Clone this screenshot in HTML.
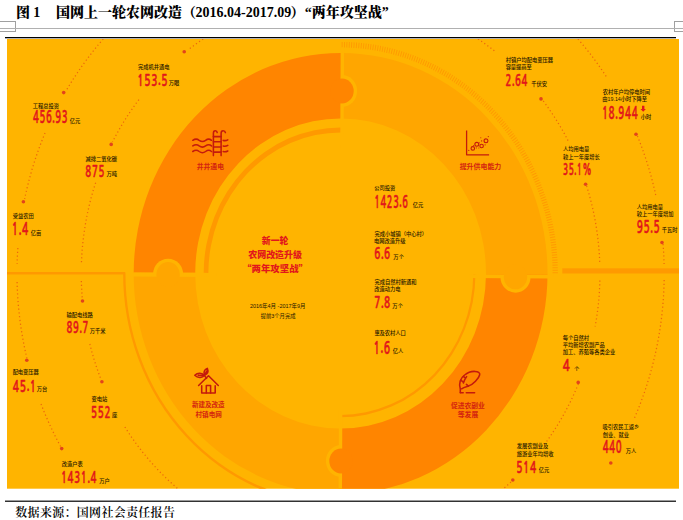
<!DOCTYPE html>
<html><head><meta charset="utf-8"><style>
html,body{margin:0;padding:0;background:#fff;}
body{width:683px;height:520px;position:relative;overflow:hidden;}
.title{position:absolute;left:0;top:0;white-space:nowrap;font-family:"Liberation Serif","Noto Serif CJK SC",serif;font-weight:bold;color:#000;}
.foot{position:absolute;white-space:nowrap;font-family:"Liberation Serif","Noto Serif CJK SC",serif;color:#000;}
</style></head><body>
<svg width="683" height="520" viewBox="0 0 683 520" style="position:absolute;left:0;top:0">
<rect x="-1.5" y="21.5" width="17" height="10" fill="none" stroke="#a0a0a0" stroke-width="1"/>
<rect x="674.5" y="21.5" width="10" height="10" fill="none" stroke="#a0a0a0" stroke-width="1"/>
<rect x="0" y="28" width="683" height="1" fill="#b0b0b0"/>
<rect x="5" y="37" width="671" height="1.3" fill="#000"/>
<rect x="5" y="500.6" width="671" height="1.2" fill="#000"/>
<rect x="7" y="39" width="672" height="449.7" fill="#ffb400"/>
<defs><clipPath id="cp"><rect x="7" y="39" width="672" height="449.7"/></clipPath></defs>
<g clip-path="url(#cp)">
<rect x="7" y="272.0" width="118" height="2.5" fill="#ff9900"/><rect x="562.3" y="268.3" width="117" height="5.2" fill="#ff9a00"/>
<g fill="none" stroke="#ec680c" stroke-width="1.25" stroke-dasharray="1.2 2.6"><path d="M103.24,39.00 L102.50,39.85 L101.77,40.70 L101.04,41.55 L100.32,42.40 L99.61,43.25 L98.89,44.10 L98.19,44.95 L97.48,45.80 L96.78,46.65 L96.09,47.50 L95.40,48.35 L94.72,49.20 L94.04,50.05 L93.36,50.90 L92.69,51.75 L92.02,52.60 L91.36,53.45 L90.70,54.30 L90.05,55.15 L89.40,56.00 L88.75,56.85 L88.11,57.70 L87.48,58.55 L86.84,59.40 L86.21,60.25 L85.59,61.10 L84.97,61.95 L84.35,62.80 L83.74,63.65 L83.13,64.50 L82.52,65.35 L81.92,66.20 L81.33,67.05 L80.73,67.90 L80.14,68.75 L79.56,69.60 L78.97,70.45 L78.40,71.30 L77.82,72.15 L77.25,73.00 L76.68,73.85 L76.12,74.70 L75.56,75.55 L75.00,76.40 L74.45,77.25 L73.90,78.10 L73.35,78.95 L72.81,79.80 L72.27,80.65 L71.73,81.50 L71.20,82.35 L70.67,83.20 L70.15,84.05 L69.63,84.90 L69.11,85.75 L68.59,86.60 L68.08,87.45 L67.57,88.30 L67.06,89.15 L66.56,90.00"/><path d="M45.04,133.00 L44.58,134.10 L44.13,135.20 L43.68,136.30 L43.24,137.40 L42.79,138.50 L42.36,139.60 L41.93,140.70 L41.50,141.80 L41.07,142.90 L40.65,144.00 L40.24,145.10 L39.83,146.20 L39.42,147.30 L39.01,148.40 L38.61,149.50 L38.22,150.60 L37.83,151.70 L37.44,152.80 L37.06,153.90 L36.68,155.00 L36.30,156.10 L35.93,157.20 L35.56,158.30 L35.20,159.40 L34.84,160.50 L34.49,161.60 L34.13,162.70 L33.79,163.80 L33.44,164.90 L33.10,166.00 L32.76,167.10 L32.43,168.20 L32.10,169.30 L31.78,170.40 L31.46,171.50 L31.14,172.60 L30.83,173.70 L30.52,174.80 L30.21,175.90 L29.91,177.00 L29.61,178.10 L29.31,179.20 L29.02,180.30 L28.73,181.40 L28.45,182.50 L28.17,183.60 L27.89,184.70 L27.62,185.80 L27.35,186.90 L27.09,188.00 L26.82,189.10 L26.56,190.20 L26.31,191.30 L26.06,192.40 L25.81,193.50 L25.57,194.60 L25.33,195.70 L25.09,196.80 L24.86,197.90 L24.63,199.00"/><path d="M17.88,248.00 L17.86,248.27 L17.84,248.53 L17.82,248.80 L17.80,249.07 L17.78,249.33 L17.77,249.60 L17.75,249.87 L17.73,250.13 L17.72,250.40 L17.70,250.67 L17.68,250.93 L17.67,251.20 L17.65,251.47 L17.63,251.73 L17.62,252.00 L17.60,252.27 L17.59,252.53 L17.57,252.80 L17.56,253.07 L17.54,253.33 L17.53,253.60 L17.51,253.87 L17.50,254.13 L17.49,254.40 L17.47,254.67 L17.46,254.93 L17.45,255.20 L17.43,255.47 L17.42,255.73 L17.41,256.00 L17.39,256.27 L17.38,256.53 L17.37,256.80 L17.36,257.07 L17.35,257.33 L17.33,257.60 L17.32,257.87 L17.31,258.13 L17.30,258.40 L17.29,258.67 L17.28,258.93 L17.27,259.20 L17.26,259.47 L17.25,259.73 L17.24,260.00 L17.23,260.27 L17.22,260.53 L17.21,260.80 L17.20,261.07 L17.19,261.33 L17.18,261.60 L17.17,261.87 L17.17,262.13 L17.16,262.40 L17.15,262.67 L17.14,262.93 L17.13,263.20 L17.13,263.47 L17.12,263.73 L17.11,264.00"/><path d="M203.18,39.00 L202.91,39.18 L202.63,39.37 L202.36,39.55 L202.09,39.73 L201.82,39.92 L201.55,40.10 L201.28,40.28 L201.01,40.47 L200.74,40.65 L200.47,40.83 L200.20,41.02 L199.93,41.20 L199.67,41.38 L199.40,41.57 L199.14,41.75 L198.87,41.93 L198.61,42.12 L198.35,42.30 L198.09,42.48 L197.83,42.67 L197.57,42.85 L197.31,43.03 L197.05,43.22 L196.79,43.40 L196.53,43.58 L196.27,43.77 L196.02,43.95 L195.76,44.13 L195.51,44.32 L195.25,44.50 L195.00,44.68 L194.74,44.87 L194.49,45.05 L194.24,45.23 L193.99,45.42 L193.74,45.60 L193.49,45.78 L193.24,45.97 L192.99,46.15 L192.74,46.33 L192.49,46.52 L192.25,46.70 L192.00,46.88 L191.76,47.07 L191.51,47.25 L191.27,47.43 L191.02,47.62 L190.78,47.80 L190.54,47.98 L190.29,48.17 L190.05,48.35 L189.81,48.53 L189.57,48.72 L189.33,48.90 L189.09,49.08 L188.85,49.27 L188.62,49.45 L188.38,49.63 L188.14,49.82 L187.90,50.00"/><path d="M138.88,99.70 L138.35,100.41 L137.82,101.11 L137.30,101.81 L136.78,102.52 L136.26,103.23 L135.74,103.93 L135.23,104.64 L134.72,105.34 L134.22,106.05 L133.71,106.75 L133.22,107.45 L132.72,108.16 L132.23,108.87 L131.74,109.57 L131.26,110.28 L130.77,110.98 L130.30,111.69 L129.82,112.39 L129.35,113.09 L128.88,113.80 L128.41,114.50 L127.95,115.21 L127.49,115.92 L127.03,116.62 L126.58,117.33 L126.13,118.03 L125.68,118.73 L125.23,119.44 L124.79,120.14 L124.35,120.85 L123.91,121.56 L123.48,122.26 L123.05,122.97 L122.62,123.67 L122.20,124.38 L121.77,125.08 L121.36,125.78 L120.94,126.49 L120.53,127.19 L120.11,127.90 L119.71,128.60 L119.30,129.31 L118.90,130.01 L118.50,130.72 L118.10,131.43 L117.71,132.13 L117.31,132.84 L116.92,133.54 L116.54,134.25 L116.15,134.95 L115.77,135.66 L115.39,136.36 L115.02,137.06 L114.64,137.77 L114.27,138.47 L113.90,139.18 L113.54,139.88 L113.17,140.59 L112.81,141.30 L112.45,142.00"/><path d="M95.63,182.70 L95.19,184.06 L94.75,185.42 L94.33,186.78 L93.91,188.15 L93.50,189.51 L93.09,190.87 L92.70,192.23 L92.31,193.59 L91.93,194.95 L91.55,196.32 L91.18,197.68 L90.82,199.04 L90.47,200.40 L90.12,201.76 L89.78,203.12 L89.45,204.49 L89.13,205.85 L88.81,207.21 L88.50,208.57 L88.19,209.93 L87.89,211.29 L87.60,212.66 L87.32,214.02 L87.04,215.38 L86.77,216.74 L86.50,218.10 L86.24,219.46 L85.99,220.83 L85.75,222.19 L85.51,223.55 L85.28,224.91 L85.05,226.27 L84.84,227.63 L84.62,229.00 L84.42,230.36 L84.22,231.72 L84.03,233.08 L83.84,234.44 L83.66,235.80 L83.49,237.17 L83.33,238.53 L83.17,239.89 L83.01,241.25 L82.87,242.61 L82.73,243.97 L82.59,245.34 L82.46,246.70 L82.34,248.06 L82.23,249.42 L82.12,250.78 L82.02,252.14 L81.92,253.51 L81.83,254.87 L81.75,256.23 L81.67,257.59 L81.60,258.95 L81.54,260.31 L81.48,261.68 L81.43,263.04 L81.38,264.40"/><path d="M81.34,281.00 L81.35,281.30 L81.35,281.60 L81.36,281.90 L81.37,282.20 L81.38,282.50 L81.39,282.80 L81.40,283.10 L81.41,283.40 L81.42,283.70 L81.43,284.00 L81.44,284.30 L81.45,284.60 L81.46,284.90 L81.48,285.20 L81.49,285.50 L81.50,285.80 L81.51,286.10 L81.53,286.40 L81.54,286.70 L81.55,287.00 L81.57,287.30 L81.58,287.60 L81.59,287.90 L81.61,288.20 L81.62,288.50 L81.64,288.80 L81.66,289.10 L81.67,289.40 L81.69,289.70 L81.71,290.00 L81.72,290.30 L81.74,290.60 L81.76,290.90 L81.77,291.20 L81.79,291.50 L81.81,291.80 L81.83,292.10 L81.85,292.40 L81.87,292.70 L81.89,293.00 L81.91,293.30 L81.93,293.60 L81.95,293.90 L81.97,294.20 L81.99,294.50 L82.01,294.80 L82.04,295.10 L82.06,295.40 L82.08,295.70 L82.10,296.00 L82.13,296.30 L82.15,296.60 L82.17,296.90 L82.20,297.20 L82.22,297.50 L82.25,297.80 L82.27,298.10 L82.30,298.40 L82.32,298.70 L82.35,299.00"/><path d="M89.82,344.00 L89.96,344.60 L90.11,345.20 L90.27,345.80 L90.42,346.40 L90.57,347.00 L90.73,347.60 L90.89,348.20 L91.05,348.80 L91.21,349.40 L91.37,350.00 L91.53,350.60 L91.69,351.20 L91.86,351.80 L92.03,352.40 L92.19,353.00 L92.36,353.60 L92.54,354.20 L92.71,354.80 L92.88,355.40 L93.06,356.00 L93.23,356.60 L93.41,357.20 L93.59,357.80 L93.77,358.40 L93.95,359.00 L94.14,359.60 L94.32,360.20 L94.51,360.80 L94.70,361.40 L94.89,362.00 L95.08,362.60 L95.27,363.20 L95.46,363.80 L95.66,364.40 L95.86,365.00 L96.05,365.60 L96.25,366.20 L96.45,366.80 L96.66,367.40 L96.86,368.00 L97.07,368.60 L97.27,369.20 L97.48,369.80 L97.69,370.40 L97.90,371.00 L98.12,371.60 L98.33,372.20 L98.55,372.80 L98.76,373.40 L98.98,374.00 L99.20,374.60 L99.42,375.20 L99.65,375.80 L99.87,376.40 L100.10,377.00 L100.33,377.60 L100.56,378.20 L100.79,378.80 L101.02,379.40 L101.25,380.00"/><path d="M124.88,427.00 L125.53,428.03 L126.19,429.07 L126.85,430.10 L127.52,431.13 L128.20,432.17 L128.88,433.20 L129.57,434.23 L130.26,435.27 L130.97,436.30 L131.67,437.33 L132.39,438.37 L133.11,439.40 L133.84,440.43 L134.58,441.47 L135.33,442.50 L136.08,443.53 L136.84,444.57 L137.61,445.60 L138.38,446.63 L139.16,447.67 L139.95,448.70 L140.75,449.73 L141.56,450.77 L142.37,451.80 L143.19,452.83 L144.02,453.87 L144.86,454.90 L145.71,455.93 L146.56,456.97 L147.43,458.00 L148.30,459.03 L149.18,460.07 L150.07,461.10 L150.97,462.13 L151.88,463.17 L152.80,464.20 L153.73,465.23 L154.66,466.27 L155.61,467.30 L156.57,468.33 L157.54,469.37 L158.52,470.40 L159.50,471.43 L160.50,472.47 L161.51,473.50 L162.53,474.53 L163.57,475.57 L164.61,476.60 L165.66,477.63 L166.73,478.67 L167.81,479.70 L168.90,480.73 L170.00,481.77 L171.12,482.80 L172.25,483.83 L173.39,484.87 L174.55,485.90 L175.72,486.93 L176.90,487.97 L178.10,489.00"/><path d="M17.09,282.00 L17.12,283.27 L17.16,284.53 L17.20,285.80 L17.24,287.07 L17.29,288.33 L17.34,289.60 L17.40,290.87 L17.46,292.13 L17.53,293.40 L17.60,294.67 L17.67,295.93 L17.75,297.20 L17.84,298.47 L17.93,299.73 L18.02,301.00 L18.12,302.27 L18.22,303.53 L18.32,304.80 L18.44,306.07 L18.55,307.33 L18.67,308.60 L18.79,309.87 L18.92,311.13 L19.05,312.40 L19.19,313.67 L19.33,314.93 L19.48,316.20 L19.63,317.47 L19.78,318.73 L19.94,320.00 L20.11,321.27 L20.28,322.53 L20.45,323.80 L20.63,325.07 L20.81,326.33 L20.99,327.60 L21.18,328.87 L21.38,330.13 L21.58,331.40 L21.78,332.67 L21.99,333.93 L22.21,335.20 L22.43,336.47 L22.65,337.73 L22.88,339.00 L23.11,340.27 L23.34,341.53 L23.59,342.80 L23.83,344.07 L24.08,345.33 L24.34,346.60 L24.60,347.87 L24.86,349.13 L25.13,350.40 L25.41,351.67 L25.68,352.93 L25.97,354.20 L26.26,355.47 L26.55,356.73 L26.85,358.00"/><path d="M41.03,404.00 L41.31,404.72 L41.59,405.43 L41.87,406.15 L42.15,406.87 L42.43,407.58 L42.71,408.30 L43.00,409.02 L43.29,409.73 L43.58,410.45 L43.87,411.17 L44.16,411.88 L44.46,412.60 L44.76,413.32 L45.05,414.03 L45.36,414.75 L45.66,415.47 L45.96,416.18 L46.27,416.90 L46.58,417.62 L46.89,418.33 L47.20,419.05 L47.51,419.77 L47.83,420.48 L48.15,421.20 L48.47,421.92 L48.79,422.63 L49.11,423.35 L49.43,424.07 L49.76,424.78 L50.09,425.50 L50.42,426.22 L50.75,426.93 L51.09,427.65 L51.43,428.37 L51.76,429.08 L52.11,429.80 L52.45,430.52 L52.79,431.23 L53.14,431.95 L53.49,432.67 L53.84,433.38 L54.19,434.10 L54.55,434.82 L54.90,435.53 L55.26,436.25 L55.62,436.97 L55.98,437.68 L56.35,438.40 L56.72,439.12 L57.08,439.83 L57.46,440.55 L57.83,441.27 L58.20,441.98 L58.58,442.70 L58.96,443.42 L59.34,444.13 L59.73,444.85 L60.11,445.57 L60.50,446.28 L60.89,447.00"/><path d="M478.02,39.00 L478.31,39.20 L478.61,39.40 L478.91,39.59 L479.20,39.79 L479.49,39.99 L479.79,40.19 L480.08,40.39 L480.37,40.59 L480.66,40.78 L480.95,40.98 L481.24,41.18 L481.53,41.38 L481.81,41.58 L482.10,41.78 L482.39,41.98 L482.67,42.17 L482.95,42.37 L483.24,42.57 L483.52,42.77 L483.80,42.97 L484.08,43.16 L484.36,43.36 L484.64,43.56 L484.92,43.76 L485.19,43.96 L485.47,44.16 L485.75,44.35 L486.02,44.55 L486.30,44.75 L486.57,44.95 L486.84,45.15 L487.12,45.35 L487.39,45.55 L487.66,45.74 L487.93,45.94 L488.20,46.14 L488.46,46.34 L488.73,46.54 L489.00,46.73 L489.27,46.93 L489.53,47.13 L489.80,47.33 L490.06,47.53 L490.32,47.73 L490.59,47.92 L490.85,48.12 L491.11,48.32 L491.37,48.52 L491.63,48.72 L491.89,48.92 L492.15,49.12 L492.41,49.31 L492.66,49.51 L492.92,49.71 L493.18,49.91 L493.43,50.11 L493.69,50.30 L493.94,50.50 L494.19,50.70 L494.45,50.90"/><path d="M543.29,101.00 L543.80,101.68 L544.31,102.37 L544.82,103.05 L545.32,103.73 L545.81,104.42 L546.31,105.10 L546.80,105.78 L547.28,106.47 L547.77,107.15 L548.25,107.83 L548.73,108.52 L549.20,109.20 L549.67,109.88 L550.14,110.57 L550.61,111.25 L551.07,111.93 L551.53,112.62 L551.99,113.30 L552.44,113.98 L552.90,114.67 L553.34,115.35 L553.79,116.03 L554.23,116.72 L554.67,117.40 L555.11,118.08 L555.54,118.77 L555.97,119.45 L556.40,120.13 L556.83,120.82 L557.25,121.50 L557.67,122.18 L558.09,122.87 L558.51,123.55 L558.92,124.23 L559.33,124.92 L559.73,125.60 L560.14,126.28 L560.54,126.97 L560.94,127.65 L561.34,128.33 L561.73,129.02 L562.12,129.70 L562.51,130.38 L562.90,131.07 L563.28,131.75 L563.66,132.43 L564.04,133.12 L564.42,133.80 L564.79,134.48 L565.16,135.17 L565.53,135.85 L565.90,136.53 L566.26,137.22 L566.63,137.90 L566.99,138.58 L567.34,139.27 L567.70,139.95 L568.05,140.63 L568.40,141.32 L568.75,142.00"/><path d="M586.63,186.00 L587.02,187.27 L587.41,188.53 L587.79,189.80 L588.16,191.07 L588.53,192.33 L588.89,193.60 L589.25,194.87 L589.60,196.13 L589.94,197.40 L590.28,198.67 L590.61,199.93 L590.93,201.20 L591.25,202.47 L591.57,203.73 L591.87,205.00 L592.17,206.27 L592.47,207.53 L592.76,208.80 L593.04,210.07 L593.32,211.33 L593.59,212.60 L593.85,213.87 L594.11,215.13 L594.37,216.40 L594.61,217.67 L594.86,218.93 L595.09,220.20 L595.32,221.47 L595.55,222.73 L595.77,224.00 L595.98,225.27 L596.19,226.53 L596.39,227.80 L596.59,229.07 L596.78,230.33 L596.96,231.60 L597.14,232.87 L597.31,234.13 L597.48,235.40 L597.65,236.67 L597.80,237.93 L597.95,239.20 L598.10,240.47 L598.24,241.73 L598.37,243.00 L598.50,244.27 L598.63,245.53 L598.74,246.80 L598.86,248.07 L598.96,249.33 L599.07,250.60 L599.16,251.87 L599.25,253.13 L599.34,254.40 L599.42,255.67 L599.49,256.93 L599.56,258.20 L599.62,259.47 L599.68,260.73 L599.73,262.00"/><path d="M577.96,39.00 L578.53,39.65 L579.09,40.30 L579.64,40.95 L580.20,41.60 L580.75,42.25 L581.30,42.90 L581.85,43.55 L582.39,44.20 L582.93,44.85 L583.47,45.50 L584.01,46.15 L584.54,46.80 L585.07,47.45 L585.60,48.10 L586.12,48.75 L586.64,49.40 L587.16,50.05 L587.68,50.70 L588.19,51.35 L588.71,52.00 L589.21,52.65 L589.72,53.30 L590.23,53.95 L590.73,54.60 L591.23,55.25 L591.72,55.90 L592.22,56.55 L592.71,57.20 L593.20,57.85 L593.69,58.50 L594.17,59.15 L594.65,59.80 L595.13,60.45 L595.61,61.10 L596.09,61.75 L596.56,62.40 L597.03,63.05 L597.50,63.70 L597.96,64.35 L598.43,65.00 L598.89,65.65 L599.35,66.30 L599.80,66.95 L600.26,67.60 L600.71,68.25 L601.16,68.90 L601.61,69.55 L602.05,70.20 L602.50,70.85 L602.94,71.50 L603.38,72.15 L603.82,72.80 L604.25,73.45 L604.68,74.10 L605.12,74.75 L605.54,75.40 L605.97,76.05 L606.39,76.70 L606.82,77.35 L607.24,78.00"/><path d="M637.40,136.00 L637.80,136.98 L638.19,137.97 L638.58,138.95 L638.97,139.93 L639.36,140.92 L639.74,141.90 L640.12,142.88 L640.50,143.87 L640.87,144.85 L641.24,145.83 L641.60,146.82 L641.97,147.80 L642.33,148.78 L642.68,149.77 L643.03,150.75 L643.38,151.73 L643.73,152.72 L644.07,153.70 L644.41,154.68 L644.75,155.67 L645.08,156.65 L645.41,157.63 L645.74,158.62 L646.07,159.60 L646.39,160.58 L646.70,161.57 L647.02,162.55 L647.33,163.53 L647.64,164.52 L647.94,165.50 L648.25,166.48 L648.55,167.47 L648.84,168.45 L649.14,169.43 L649.43,170.42 L649.71,171.40 L650.00,172.38 L650.28,173.37 L650.56,174.35 L650.83,175.33 L651.11,176.32 L651.37,177.30 L651.64,178.28 L651.90,179.27 L652.16,180.25 L652.42,181.23 L652.68,182.22 L652.93,183.20 L653.18,184.18 L653.42,185.17 L653.67,186.15 L653.91,187.13 L654.14,188.12 L654.38,189.10 L654.61,190.08 L654.84,191.07 L655.06,192.05 L655.28,193.03 L655.50,194.02 L655.72,195.00"/><path d="M663.02,244.00 L663.05,244.33 L663.08,244.67 L663.10,245.00 L663.13,245.33 L663.16,245.67 L663.18,246.00 L663.21,246.33 L663.23,246.67 L663.25,247.00 L663.28,247.33 L663.30,247.67 L663.32,248.00 L663.35,248.33 L663.37,248.67 L663.39,249.00 L663.42,249.33 L663.44,249.67 L663.46,250.00 L663.48,250.33 L663.50,250.67 L663.52,251.00 L663.54,251.33 L663.56,251.67 L663.58,252.00 L663.60,252.33 L663.62,252.67 L663.64,253.00 L663.66,253.33 L663.67,253.67 L663.69,254.00 L663.71,254.33 L663.73,254.67 L663.74,255.00 L663.76,255.33 L663.78,255.67 L663.79,256.00 L663.81,256.33 L663.82,256.67 L663.84,257.00 L663.85,257.33 L663.87,257.67 L663.88,258.00 L663.90,258.33 L663.91,258.67 L663.92,259.00 L663.94,259.33 L663.95,259.67 L663.96,260.00 L663.97,260.33 L663.99,260.67 L664.00,261.00 L664.01,261.33 L664.02,261.67 L664.03,262.00 L664.04,262.33 L664.05,262.67 L664.06,263.00 L664.07,263.33 L664.08,263.67 L664.09,264.00"/><path d="M599.87,280.50 L599.85,281.27 L599.83,282.03 L599.81,282.80 L599.79,283.57 L599.76,284.33 L599.73,285.10 L599.70,285.87 L599.66,286.63 L599.63,287.40 L599.59,288.17 L599.55,288.93 L599.51,289.70 L599.47,290.47 L599.42,291.23 L599.38,292.00 L599.33,292.77 L599.28,293.53 L599.22,294.30 L599.17,295.07 L599.11,295.83 L599.05,296.60 L598.99,297.37 L598.93,298.13 L598.86,298.90 L598.79,299.67 L598.72,300.43 L598.65,301.20 L598.58,301.97 L598.50,302.73 L598.43,303.50 L598.35,304.27 L598.26,305.03 L598.18,305.80 L598.10,306.57 L598.01,307.33 L597.92,308.10 L597.83,308.87 L597.73,309.63 L597.64,310.40 L597.54,311.17 L597.44,311.93 L597.34,312.70 L597.23,313.47 L597.13,314.23 L597.02,315.00 L596.91,315.77 L596.80,316.53 L596.68,317.30 L596.57,318.07 L596.45,318.83 L596.33,319.60 L596.20,320.37 L596.08,321.13 L595.95,321.90 L595.82,322.67 L595.69,323.43 L595.56,324.20 L595.42,324.97 L595.29,325.73 L595.15,326.50"/><path d="M578.35,384.00 L577.94,384.98 L577.53,385.97 L577.12,386.95 L576.70,387.93 L576.28,388.92 L575.86,389.90 L575.43,390.88 L574.99,391.87 L574.55,392.85 L574.11,393.83 L573.66,394.82 L573.21,395.80 L572.75,396.78 L572.29,397.77 L571.82,398.75 L571.35,399.73 L570.88,400.72 L570.39,401.70 L569.91,402.68 L569.42,403.67 L568.93,404.65 L568.43,405.63 L567.92,406.62 L567.41,407.60 L566.90,408.58 L566.38,409.57 L565.86,410.55 L565.33,411.53 L564.79,412.52 L564.25,413.50 L563.71,414.48 L563.16,415.47 L562.61,416.45 L562.05,417.43 L561.48,418.42 L560.91,419.40 L560.34,420.38 L559.75,421.37 L559.17,422.35 L558.58,423.33 L557.98,424.32 L557.38,425.30 L556.77,426.28 L556.15,427.27 L555.53,428.25 L554.91,429.23 L554.27,430.22 L553.64,431.20 L552.99,432.18 L552.34,433.17 L551.69,434.15 L551.03,435.13 L550.36,436.12 L549.69,437.10 L549.01,438.08 L548.32,439.07 L547.63,440.05 L546.93,441.03 L546.22,442.02 L545.51,443.00"/><path d="M510.94,482.00 L510.82,482.12 L510.69,482.23 L510.57,482.35 L510.44,482.47 L510.31,482.58 L510.19,482.70 L510.06,482.82 L509.93,482.93 L509.81,483.05 L509.68,483.17 L509.55,483.28 L509.42,483.40 L509.30,483.52 L509.17,483.63 L509.04,483.75 L508.91,483.87 L508.78,483.98 L508.66,484.10 L508.53,484.22 L508.40,484.33 L508.27,484.45 L508.14,484.57 L508.01,484.68 L507.88,484.80 L507.75,484.92 L507.62,485.03 L507.49,485.15 L507.36,485.27 L507.23,485.38 L507.10,485.50 L506.97,485.62 L506.84,485.73 L506.71,485.85 L506.58,485.97 L506.44,486.08 L506.31,486.20 L506.18,486.32 L506.05,486.43 L505.92,486.55 L505.78,486.67 L505.65,486.78 L505.52,486.90 L505.39,487.02 L505.25,487.13 L505.12,487.25 L504.99,487.37 L504.85,487.48 L504.72,487.60 L504.59,487.72 L504.45,487.83 L504.32,487.95 L504.18,488.07 L504.05,488.18 L503.91,488.30 L503.78,488.42 L503.64,488.53 L503.51,488.65 L503.37,488.77 L503.23,488.88 L503.10,489.00"/><path d="M664.15,280.00 L664.10,282.32 L664.04,284.63 L663.96,286.95 L663.87,289.27 L663.77,291.58 L663.64,293.90 L663.51,296.22 L663.36,298.53 L663.19,300.85 L663.01,303.17 L662.82,305.48 L662.61,307.80 L662.38,310.12 L662.14,312.43 L661.89,314.75 L661.62,317.07 L661.34,319.38 L661.04,321.70 L660.72,324.02 L660.39,326.33 L660.05,328.65 L659.69,330.97 L659.31,333.28 L658.92,335.60 L658.52,337.92 L658.10,340.23 L657.66,342.55 L657.21,344.87 L656.74,347.18 L656.26,349.50 L655.76,351.82 L655.25,354.13 L654.72,356.45 L654.17,358.77 L653.61,361.08 L653.03,363.40 L652.44,365.72 L651.82,368.03 L651.20,370.35 L650.55,372.67 L649.89,374.98 L649.22,377.30 L648.52,379.62 L647.81,381.93 L647.08,384.25 L646.34,386.57 L645.58,388.88 L644.80,391.20 L644.00,393.52 L643.18,395.83 L642.35,398.15 L641.50,400.47 L640.63,402.78 L639.74,405.10 L638.84,407.42 L637.91,409.73 L636.97,412.05 L636.01,414.37 L635.02,416.68 L634.02,419.00"/></g>
<g transform="translate(340.6,273.5) rotate(0.27) scale(0.938,1)">
<path d="M-220.60,0.00 A220.6,220.6 0 0 1 -0.00,-220.60 L-0.00,-155.00 A155.0,155.0 0 0 0 -155.00,0.00 Z" fill="#ff8500"/>
<path d="M-0.00,-220.60 A220.6,220.6 0 0 1 220.60,-0.00 L155.00,-0.00 A155.0,155.0 0 0 0 -0.00,-155.00 Z" fill="#ffa600"/>
<path d="M220.60,0.00 A220.6,220.6 0 0 1 0.00,220.60 L0.00,155.00 A155.0,155.0 0 0 0 155.00,0.00 Z" fill="#ff8500"/>
<path d="M0.00,220.60 A220.6,220.6 0 0 1 -220.60,0.00 L-155.00,0.00 A155.0,155.0 0 0 0 0.00,155.00 Z" fill="#ffa600"/>
<path d="M-146.00,0.00 A146,146 0 0 1 -0.00,-146.00 L-0.00,-141.00 A141,141 0 0 0 -141.00,0.00 Z" fill="#ff9900"/>
<path d="M143.80,0.00 A143.8,143.8 0 0 1 0.00,143.80 L0.00,141.40 A141.4,141.4 0 0 0 141.40,0.00 Z" fill="#ff9900"/>
<path d="M-0.00,-228.80 A228.8,228.8 0 0 1 228.80,-0.00" fill="none" stroke="#ff9a00" stroke-width="5.6" stroke-dasharray="1.0 1.55"/>
<path d="M0.00,230.60 A230.6,230.6 0 0 1 -230.60,0.00" fill="none" stroke="#ff9900" stroke-width="2.5"/>
</g>
<g transform="translate(341.3,275.6) rotate(0.27)"><rect x="-1.7" y="-228" width="3.4" height="100" fill="#ffb400"/><rect x="-1.7" y="128" width="3.4" height="104" fill="#ffb400"/><rect x="-212" y="-1.9" width="87" height="3.8" fill="#ffb400"/><rect x="125" y="-1.9" width="87" height="3.8" fill="#ffb400"/></g>
<path d="M342.0,75.1 A15.1,15.9 0 0 1 342.0,106.9 Z" fill="#ffb400"/><ellipse cx="342.0" cy="91.0" rx="11.7" ry="12.5" fill="#ff8500"/><path d="M153.0,274.6 A15.1,15.9 0 0 1 183.2,274.6 Z" fill="#ffb400"/><ellipse cx="168.1" cy="274.6" rx="11.7" ry="12.5" fill="#ffa600"/><path d="M500.4,276.8 A15.1,15.9 0 0 0 530.6,276.8 Z" fill="#ffb400"/><ellipse cx="515.5" cy="276.8" rx="11.7" ry="12.5" fill="#ffa600"/><path d="M341.0,445.1 A15.1,15.9 0 0 0 341.0,476.9 Z" fill="#ffb400"/><ellipse cx="341.0" cy="461.0" rx="11.7" ry="12.5" fill="#ff8500"/>
<g fill="#e2441a"><circle cx="184.2" cy="51.8" r="1.8"/><circle cx="63.7" cy="92.6" r="1.8"/><circle cx="111.2" cy="144.4" r="1.8"/><circle cx="23.4" cy="201.7" r="1.8"/><circle cx="82.5" cy="301" r="1.8"/><circle cx="26.8" cy="360.2" r="1.8"/><circle cx="101.9" cy="381.7" r="1.8"/><circle cx="61.7" cy="448.6" r="1.8"/><circle cx="541" cy="98.9" r="1.8"/><circle cx="636" cy="134.2" r="1.8"/><circle cx="585.6" cy="184.2" r="1.8"/><circle cx="662" cy="242.5" r="1.8"/><circle cx="578.2" cy="382.4" r="1.8"/><circle cx="610.8" cy="463" r="1.8"/><circle cx="512.8" cy="480" r="1.8"/></g>
<g fill="none" stroke="#c41a0c" stroke-width="1.55" stroke-linecap="round" stroke-linejoin="round">
<!-- pool ladder -->
<path d="M213.4,155.6 V133.4 C213.4,131.6 214.2,130.7 215.3,130.7 C216.4,130.7 217.1,131.5 217.2,132.6"/>
<path d="M221.1,155.6 V133.4 C221.1,131.6 221.9,130.7 223.1,130.7 C224.3,130.7 225.2,131.5 225.4,132.6"/>
<path d="M213.4,136.6 H221.1 M213.4,141.7 H221.1 M213.4,146.9 H221.1 M213.4,152.1 H221.1"/>
<path d="M192.8,140.3 c2.2,-1.6 4.4,-1.6 6.4,0 c2.1,1.6 4.3,1.6 6.4,0 c2.1,-1.6 4.1,-1.6 5.9,0"/>
<path d="M192.8,145.9 c2.2,-1.6 4.4,-1.6 6.4,0 c2.1,1.6 4.3,1.6 6.4,0 c2.1,-1.6 4.1,-1.6 5.9,0"/>
<path d="M192.8,151.5 c2.2,-1.6 4.4,-1.6 6.4,0 c2.1,1.6 4.3,1.6 6.4,0 c2.1,-1.6 4.1,-1.6 5.9,0"/>
<path d="M223.2,140.4 c1.6,0.4 3.2,0.2 4.6,-0.6 M223.2,146.0 c1.6,0.4 3.2,0.2 4.6,-0.6 M223.2,151.6 c1.6,0.4 3.2,0.2 4.6,-0.6"/>
<!-- chart -->
<path d="M466.6,130.4 V154.8 H489.1" stroke-width="1.3" stroke-linecap="butt"/>
<circle cx="472.8" cy="148.4" r="1.75" stroke-width="1.1"/>
<circle cx="476.8" cy="144.3" r="1.95" stroke-width="1.1"/>
<circle cx="481.6" cy="146.0" r="1.75" stroke-width="1.1"/>
<circle cx="486.0" cy="140.8" r="1.95" stroke-width="1.1"/>
<!-- house -->
<path d="M198.6,385.5 L208.5,375.7 L218.3,385.5"/>
<path d="M201.7,385.8 V392.9 H215.2 V385.8"/>
<path d="M206.3,392.9 V385.4 H210.6 V392.9"/>
<path d="M204.4,375.6 C202.4,372.6 197.6,372.4 194.8,375.2 C197.5,378 202.2,378.3 204.4,375.6 Z M204.2,375.5 L198.2,375.3"/>
<path d="M204.6,375.3 C203.4,372.2 204.6,369.6 207.3,368.4 C208.5,371.2 207.6,374 204.6,375.3 Z M204.8,375 L206.6,371"/>
<path d="M204.5,375.6 L206.6,378.4"/>
<!-- feather -->
<path d="M460.3,392.6 V389 C459.6,386.5 459.4,383.5 460.2,381 C460.9,378.8 462.5,376.6 464.6,375 C467.5,372.6 471.5,371.2 475,371.4 C478,371.6 480.2,372.8 479.7,374.8 C479.2,377 477.5,379.3 475.5,381.3 C473.6,383.4 470.8,385.4 467.8,386.3 C466,386.8 463.6,387.3 461.6,388.8"/>
<path d="M463.4,376.4 L465.4,378.2 M460.9,380.2 L462.9,381.8 M466.4,384.4 L468.4,386.2 M466.6,376.6 C465.2,378.6 464,380.6 463.4,383"/>
<path d="M460.3,392.8 H463.2 M466.3,392.8 H474.6"/>
</g>
<g fill="#c81c0c">
<circle cx="468.8" cy="150.4" r="0.6"/><circle cx="473.6" cy="145.6" r="0.55"/><circle cx="476.3" cy="147.9" r="0.55"/>
<circle cx="478.8" cy="147.9" r="0.5"/><circle cx="480.8" cy="137.8" r="0.55"/><circle cx="481.6" cy="140.9" r="0.6"/>
<circle cx="485.1" cy="144.8" r="0.6"/><circle cx="488.3" cy="136.6" r="0.6"/><circle cx="479.3" cy="142.8" r="0.5"/>
</g>
<path d="M642,105.8 H644.4 V109 H645.9 L643.2,111.8 L640.5,109 H642 Z" fill="#e2171b"/>
<text transform="translate(137.24,85.66) scale(0.1271,0.2)" font-family="'NanumGothic', 'Liberation Sans', sans-serif" font-weight="bold" font-size="81.09" fill="#e2171b" stroke="#e2171b" stroke-width="2.25" letter-spacing="5.68">153<tspan dx="-2.84" dy="-7.30">.</tspan><tspan dx="-2.84" dy="7.30">5</tspan></text><text transform="translate(32.88,123.45) scale(0.1125,0.2)" font-family="'NanumGothic', 'Liberation Sans', sans-serif" font-weight="bold" font-size="85.58" fill="#e2171b" stroke="#e2171b" stroke-width="2.25" letter-spacing="5.99">456<tspan dx="-3.00" dy="-7.70">.</tspan><tspan dx="-3.00" dy="7.70">93</tspan></text><text transform="translate(85.34,176.56) scale(0.1198,0.2)" font-family="'NanumGothic', 'Liberation Sans', sans-serif" font-weight="bold" font-size="81.09" fill="#e2171b" stroke="#e2171b" stroke-width="2.25" letter-spacing="5.68">875</text><text transform="translate(11.84,235.44) scale(0.1244,0.2)" font-family="'NanumGothic', 'Liberation Sans', sans-serif" font-weight="bold" font-size="82.68" fill="#e2171b" stroke="#e2171b" stroke-width="2.25" letter-spacing="5.79">1<tspan dx="-2.89" dy="-7.85">.</tspan><tspan dx="-2.89" dy="7.85">4</tspan></text><text transform="translate(66.54,333.36) scale(0.1184,0.2)" font-family="'NanumGothic', 'Liberation Sans', sans-serif" font-weight="bold" font-size="81.09" fill="#e2171b" stroke="#e2171b" stroke-width="2.25" letter-spacing="5.68">89<tspan dx="-2.84" dy="-7.30">.</tspan><tspan dx="-2.84" dy="7.30">7</tspan></text><text transform="translate(12.87,391.66) scale(0.1251,0.2)" font-family="'NanumGothic', 'Liberation Sans', sans-serif" font-weight="bold" font-size="82.14" fill="#e2171b" stroke="#e2171b" stroke-width="2.25" letter-spacing="5.75">45<tspan dx="-2.88" dy="-7.39">.</tspan><tspan dx="-2.88" dy="7.39">1</tspan></text><text transform="translate(90.98,417.56) scale(0.1215,0.2)" font-family="'NanumGothic', 'Liberation Sans', sans-serif" font-weight="bold" font-size="81.73" fill="#e2171b" stroke="#e2171b" stroke-width="2.25" letter-spacing="5.72">552</text><text transform="translate(61.00,483.36) scale(0.1209,0.2)" font-family="'NanumGothic', 'Liberation Sans', sans-serif" font-weight="bold" font-size="81.09" fill="#e2171b" stroke="#e2171b" stroke-width="2.25" letter-spacing="5.68">1431<tspan dx="-2.84" dy="-7.30">.</tspan><tspan dx="-2.84" dy="7.30">4</tspan></text><text transform="translate(505.49,86.37) scale(0.1220,0.2)" font-family="'NanumGothic', 'Liberation Sans', sans-serif" font-weight="bold" font-size="79.17" fill="#e2171b" stroke="#e2171b" stroke-width="2.25" letter-spacing="5.54">2<tspan dx="-2.77" dy="-7.12">.</tspan><tspan dx="-2.77" dy="7.12">64</tspan></text><text transform="translate(601.88,119.46) scale(0.1177,0.2)" font-family="'NanumGothic', 'Liberation Sans', sans-serif" font-weight="bold" font-size="84.29" fill="#e2171b" stroke="#e2171b" stroke-width="2.25" letter-spacing="5.90">18<tspan dx="-2.95" dy="-7.59">.</tspan><tspan dx="-2.95" dy="7.59">944</tspan></text><text transform="translate(562.96,175.22) scale(0.1111,0.2)" font-family="'NanumGothic', 'Liberation Sans', sans-serif" font-weight="bold" font-size="75.62" fill="#e2171b" stroke="#e2171b" stroke-width="2.25" letter-spacing="5.29">35<tspan dx="-2.65" dy="-6.05">.</tspan><tspan dx="-2.65" dy="6.05">1%</tspan></text><text transform="translate(636.66,233.06) scale(0.1227,0.2)" font-family="'NanumGothic', 'Liberation Sans', sans-serif" font-weight="bold" font-size="83.01" fill="#e2171b" stroke="#e2171b" stroke-width="2.25" letter-spacing="5.81">95<tspan dx="-2.91" dy="-7.47">.</tspan><tspan dx="-2.91" dy="7.47">5</tspan></text><text transform="translate(562.83,371.24) scale(0.1442,0.2)" font-family="'NanumGothic', 'Liberation Sans', sans-serif" font-weight="bold" font-size="80.59" fill="#e2171b" stroke="#e2171b" stroke-width="2.25" letter-spacing="5.64">4</text><text transform="translate(602.78,453.46) scale(0.1167,0.2)" font-family="'NanumGothic', 'Liberation Sans', sans-serif" font-weight="bold" font-size="82.90" fill="#e2171b" stroke="#e2171b" stroke-width="2.25" letter-spacing="5.80">440</text><text transform="translate(516.15,472.66) scale(0.1249,0.2)" font-family="'NanumGothic', 'Liberation Sans', sans-serif" font-weight="bold" font-size="82.14" fill="#e2171b" stroke="#e2171b" stroke-width="2.25" letter-spacing="5.75">514</text><text transform="translate(374.26,207.66) scale(0.1105,0.2)" font-family="'NanumGothic', 'Liberation Sans', sans-serif" font-weight="bold" font-size="84.29" fill="#e2171b" stroke="#e2171b" stroke-width="2.25" letter-spacing="5.90">1423<tspan dx="-2.95" dy="-7.59">.</tspan><tspan dx="-2.95" dy="7.59">6</tspan></text><text transform="translate(374.22,259.17) scale(0.1342,0.2)" font-family="'NanumGothic', 'Liberation Sans', sans-serif" font-weight="bold" font-size="75.32" fill="#e2171b" stroke="#e2171b" stroke-width="2.25" letter-spacing="5.27">6<tspan dx="-2.64" dy="-6.78">.</tspan><tspan dx="-2.64" dy="6.78">6</tspan></text><text transform="translate(374.17,308.46) scale(0.1256,0.2)" font-family="'NanumGothic', 'Liberation Sans', sans-serif" font-weight="bold" font-size="80.45" fill="#e2171b" stroke="#e2171b" stroke-width="2.25" letter-spacing="5.63">7<tspan dx="-2.82" dy="-7.24">.</tspan><tspan dx="-2.82" dy="7.24">8</tspan></text><text transform="translate(373.51,353.86) scale(0.1246,0.2)" font-family="'NanumGothic', 'Liberation Sans', sans-serif" font-weight="bold" font-size="84.29" fill="#e2171b" stroke="#e2171b" stroke-width="2.25" letter-spacing="5.90">1<tspan dx="-2.95" dy="-7.59">.</tspan><tspan dx="-2.95" dy="7.59">6</tspan></text><text x="138.12" y="69.00" font-family="'Noto Sans CJK SC', sans-serif" font-weight="500" font-size="5.25" fill="#251600">完成机井通电</text><text x="32.66" y="107.59" font-family="'Noto Sans CJK SC', sans-serif" font-weight="500" font-size="5.25" fill="#251600">工程总投资</text><text x="85.47" y="160.59" font-family="'Noto Sans CJK SC', sans-serif" font-weight="500" font-size="5.25" fill="#251600">减排二氧化碳</text><text x="12.66" y="217.61" font-family="'Noto Sans CJK SC', sans-serif" font-weight="500" font-size="5.25" fill="#251600">受益农田</text><text x="66.62" y="316.52" font-family="'Noto Sans CJK SC', sans-serif" font-weight="500" font-size="5.25" fill="#251600">输配电线路</text><text x="12.64" y="374.32" font-family="'Noto Sans CJK SC', sans-serif" font-weight="500" font-size="5.25" fill="#251600">配电变压器</text><text x="91.46" y="400.62" font-family="'Noto Sans CJK SC', sans-serif" font-weight="500" font-size="5.25" fill="#251600">变电站</text><text x="61.76" y="466.00" font-family="'Noto Sans CJK SC', sans-serif" font-weight="500" font-size="5.25" fill="#251600">改造户表</text><text x="505.69" y="62.41" font-family="'Noto Sans CJK SC', sans-serif" font-weight="500" font-size="5.25" fill="#251600">村镇户均配电变压器</text><text x="505.64" y="69.42" font-family="'Noto Sans CJK SC', sans-serif" font-weight="500" font-size="5.25" fill="#251600">容量提高至</text><text x="602.79" y="93.50" font-family="'Noto Sans CJK SC', sans-serif" font-weight="500" font-size="5.25" fill="#251600">农村年户均停电时间</text><text x="602.35" y="100.50" font-family="'Liberation Sans', 'Noto Sans CJK SC', sans-serif" font-weight="500" font-size="5.25" fill="#251600">由19.14小时下降至</text><text x="563.02" y="151.18" font-family="'Noto Sans CJK SC', sans-serif" font-weight="500" font-size="5.25" fill="#251600">人均用电量</text><text x="563.04" y="158.51" font-family="'Noto Sans CJK SC', sans-serif" font-weight="500" font-size="5.25" fill="#251600">较上一年度增长</text><text x="636.82" y="209.28" font-family="'Noto Sans CJK SC', sans-serif" font-weight="500" font-size="5.25" fill="#251600">人均用电量</text><text x="636.84" y="216.01" font-family="'Noto Sans CJK SC', sans-serif" font-weight="500" font-size="5.25" fill="#251600">较上一年度增加</text><text x="562.74" y="340.12" font-family="'Noto Sans CJK SC', sans-serif" font-weight="500" font-size="5.25" fill="#251600">每个自然村</text><text x="562.66" y="346.88" font-family="'Noto Sans CJK SC', sans-serif" font-weight="500" font-size="5.25" fill="#251600">平均新增农副产品</text><text x="562.79" y="354.21" font-family="'Noto Sans CJK SC', sans-serif" font-weight="500" font-size="5.25" fill="#251600">加工、养殖等各类企业</text><text x="602.43" y="428.68" font-family="'Noto Sans CJK SC', sans-serif" font-weight="500" font-size="5.25" fill="#251600">吸引农民工返乡</text><text x="602.69" y="436.69" font-family="'Noto Sans CJK SC', sans-serif" font-weight="500" font-size="5.25" fill="#251600">创业、就业</text><text x="516.79" y="448.31" font-family="'Noto Sans CJK SC', sans-serif" font-weight="500" font-size="5.25" fill="#251600">发展农副业及</text><text x="516.79" y="455.91" font-family="'Noto Sans CJK SC', sans-serif" font-weight="500" font-size="5.25" fill="#251600">旅游业年均增收</text><text x="374.36" y="190.40" font-family="'Noto Sans CJK SC', sans-serif" font-weight="500" font-size="5.25" fill="#251600">公司投资</text><text x="374.42" y="235.69" font-family="'Noto Sans CJK SC', sans-serif" font-weight="500" font-size="5.25" fill="#251600">完成小城镇（中心村）</text><text x="374.00" y="243.40" font-family="'Noto Sans CJK SC', sans-serif" font-weight="500" font-size="5.25" fill="#251600">电网改造升级</text><text x="374.42" y="283.69" font-family="'Noto Sans CJK SC', sans-serif" font-weight="500" font-size="5.25" fill="#251600">完成自然村新通和</text><text x="374.36" y="290.98" font-family="'Noto Sans CJK SC', sans-serif" font-weight="500" font-size="5.25" fill="#251600">改造动力电</text><text x="374.39" y="335.10" font-family="'Noto Sans CJK SC', sans-serif" font-weight="500" font-size="5.25" fill="#251600">惠及农村人口</text><text x="249.93" y="307.59" font-family="'Liberation Sans', 'Noto Sans CJK SC', sans-serif" font-weight="normal" font-size="5.47" fill="#251600">2016年4月 -2017年9月</text><text x="260.67" y="318.04" font-family="'Liberation Sans', 'Noto Sans CJK SC', sans-serif" font-weight="normal" font-size="5.33" fill="#251600">提前3个月完成</text><text x="168.87" y="84.98" font-family="'Noto Sans CJK SC', sans-serif" font-weight="500" font-size="5.25" fill="#251600">万眼</text><text x="69.67" y="122.90" font-family="'Noto Sans CJK SC', sans-serif" font-weight="500" font-size="5.25" fill="#251600">亿元</text><text x="106.47" y="176.00" font-family="'Noto Sans CJK SC', sans-serif" font-weight="500" font-size="5.25" fill="#251600">万吨</text><text x="30.87" y="234.81" font-family="'Noto Sans CJK SC', sans-serif" font-weight="500" font-size="5.25" fill="#251600">亿亩</text><text x="89.67" y="332.79" font-family="'Noto Sans CJK SC', sans-serif" font-weight="500" font-size="5.25" fill="#251600">万千米</text><text x="36.87" y="391.12" font-family="'Noto Sans CJK SC', sans-serif" font-weight="500" font-size="5.25" fill="#251600">万台</text><text x="111.89" y="417.02" font-family="'Noto Sans CJK SC', sans-serif" font-weight="500" font-size="5.25" fill="#251600">座</text><text x="99.17" y="482.79" font-family="'Noto Sans CJK SC', sans-serif" font-weight="500" font-size="5.25" fill="#251600">万户</text><text x="531.16" y="85.80" font-family="'Noto Sans CJK SC', sans-serif" font-weight="500" font-size="5.25" fill="#251600">千伏安</text><text x="640.87" y="118.90" font-family="'Noto Sans CJK SC', sans-serif" font-weight="500" font-size="5.25" fill="#251600">小时</text><text x="661.76" y="232.48" font-family="'Noto Sans CJK SC', sans-serif" font-weight="500" font-size="5.25" fill="#251600">千瓦时</text><text x="574.07" y="370.59" font-family="'Noto Sans CJK SC', sans-serif" font-weight="500" font-size="5.25" fill="#251600">个</text><text x="625.67" y="452.88" font-family="'Noto Sans CJK SC', sans-serif" font-weight="500" font-size="5.25" fill="#251600">万人</text><text x="538.67" y="472.09" font-family="'Noto Sans CJK SC', sans-serif" font-weight="500" font-size="5.25" fill="#251600">亿元</text><text x="412.87" y="207.09" font-family="'Noto Sans CJK SC', sans-serif" font-weight="500" font-size="5.25" fill="#251600">亿元</text><text x="393.37" y="258.58" font-family="'Noto Sans CJK SC', sans-serif" font-weight="500" font-size="5.25" fill="#251600">万个</text><text x="392.17" y="307.88" font-family="'Noto Sans CJK SC', sans-serif" font-weight="500" font-size="5.25" fill="#251600">万个</text><text x="392.67" y="353.29" font-family="'Noto Sans CJK SC', sans-serif" font-weight="500" font-size="5.25" fill="#251600">亿人</text><text x="196.69" y="169.26" font-family="'Noto Sans CJK SC', sans-serif" font-weight="bold" font-size="6.82" fill="#d4240f">井井通电</text><text x="459.66" y="169.32" font-family="'Noto Sans CJK SC', sans-serif" font-weight="bold" font-size="6.95" fill="#d4240f">提升供电能力</text><text x="191.94" y="407.47" font-family="'Noto Sans CJK SC', sans-serif" font-weight="bold" font-size="6.51" fill="#d4240f">新建及改造</text><text x="195.50" y="417.32" font-family="'Noto Sans CJK SC', sans-serif" font-weight="bold" font-size="6.62" fill="#d4240f">村镇电网</text><text x="450.93" y="407.57" font-family="'Noto Sans CJK SC', sans-serif" font-weight="bold" font-size="6.75" fill="#d4240f">促进农副业</text><text x="457.80" y="417.40" font-family="'Noto Sans CJK SC', sans-serif" font-weight="bold" font-size="6.80" fill="#d4240f">等发展</text><text x="261.87" y="244.40" font-family="'Noto Sans CJK SC', sans-serif" font-weight="900" font-size="8.82" fill="#e2171b">新一轮</text><text x="248.20" y="258.34" font-family="'Noto Sans CJK SC', sans-serif" font-weight="900" font-size="8.98" fill="#e2171b">农网改造升级</text><text x="242.14" y="271.83" font-family="'Noto Sans CJK SC', sans-serif" font-weight="900" font-size="9.42" fill="#e2171b">“两年攻坚战”</text>
</g>
<g font-family="'Liberation Serif','Noto Serif CJK SC',serif" font-weight="900" font-size="14" fill="#000">
<text x="16" y="16.7">图</text>
<text x="33.3" y="16.7">1</text>
<text x="56" y="16.7">国网上一轮农网改造</text>
<text x="182" y="16.7">（</text>
<text x="195.6" y="16.7">2016.04-2017.09</text>
<text x="290.6" y="16.7">）</text>
<text x="304.8" y="16.7">“</text>
<text x="311.8" y="16.7">两年攻坚战</text>
<text x="381.8" y="16.7">”</text>
</g>
<text x="15.3" y="516.8" font-family="'Noto Serif CJK SC',serif" font-weight="600" font-size="12" letter-spacing="0.3" fill="#000">数据来源：国网社会责任报告</text>
</svg>
</body></html>
